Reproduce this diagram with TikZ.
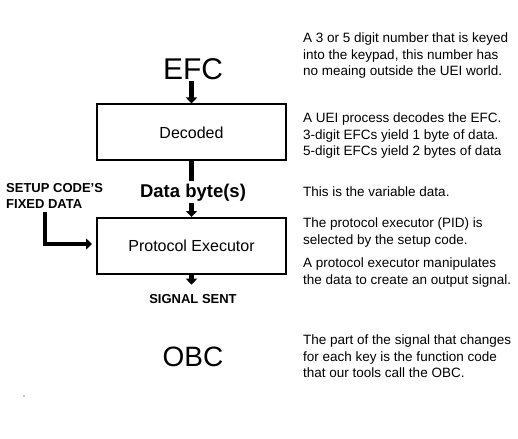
\documentclass[tikz,border=0pt]{standalone}
\usepackage{fontspec}
\setmainfont{Liberation Sans}
\usetikzlibrary{arrows.meta}

\begin{document}
\begin{tikzpicture}[x=1pt,y=-1pt,
  box/.style={draw, line width=2pt, minimum width=189pt, minimum height=56pt, font=\fontsize{16}{19}\selectfont},
  flow/.style={line width=4.5pt},
  arr/.style={flow, -{Triangle[length=6pt,width=11pt]}},
  caps/.style={font=\fontsize{13}{16}\selectfont\bfseries, inner sep=1pt},
  note/.style={anchor=north west, inner sep=0pt, align=left, font=\fontsize{13.5}{16.5}\selectfont}]
\useasboundingbox (0,0) rectangle (518,438);

% flow on the left
\node[anchor=base, inner sep=1pt, font=\fontsize{30}{36}\selectfont] (efc) at (193,80) {EFC};
\node[box] (decoded) at (191.5,132.5) {Decoded};
\node[anchor=base, inner sep=2pt, font=\fontsize{18.5}{22}\selectfont\bfseries] (data) at (193,197) {Data byte(s)};
\node[box] (pe) at (191.5,246) {Protocol Executor};
\node[caps, anchor=north west, align=left] (setup) at (5,182) {SETUP CODE'S\\FIXED DATA};
\node[caps, anchor=base] (signal) at (193,303) {SIGNAL SENT};
\node[anchor=base, inner sep=1pt, font=\fontsize{28}{34}\selectfont] (obc) at (193,366) {OBC};

\coordinate (setupfoot) at (45,212);
\coordinate (bend) at (45,244);

\draw[arr] (efc.south -| decoded.north) -- (decoded.north);
\draw[flow] (decoded.south) -- (decoded.south |- data.north);
\draw[arr] (data.south -| pe.north) -- (pe.north);
\draw[arr, line join=miter] (setupfoot) -- (bend) -- ([xshift=-4pt]pe.west |- bend);
\draw[arr, shorten >=8pt] (pe.south) -- (pe.south |- signal.north);

\fill (24,396) circle (0.7pt);

% notes on the right
\node[note] (n1) at (303,33) {A 3 or 5 digit number that is keyed\\into the keypad, this number has\\no meaing outside the UEI world.};
\node[note] (n2) at (303,113) {A UEI process decodes the EFC.\\3-digit EFCs yield 1 byte of data.\\5-digit EFCs yield 2 bytes of data};
\node[note] (n3) at (303,187) {This is the variable data.};
\node[note] (n4) at (303,218) {The protocol executor (PID) is\\selected by the setup code.};
\node[note] (n5) at (303,258) {A protocol executor manipulates\\the data to create an output signal.};
\node[note] (n6) at (303,335) {The part of the signal that changes\\for each key is the function code\\that our tools call the OBC.};
\end{tikzpicture}
\end{document}
